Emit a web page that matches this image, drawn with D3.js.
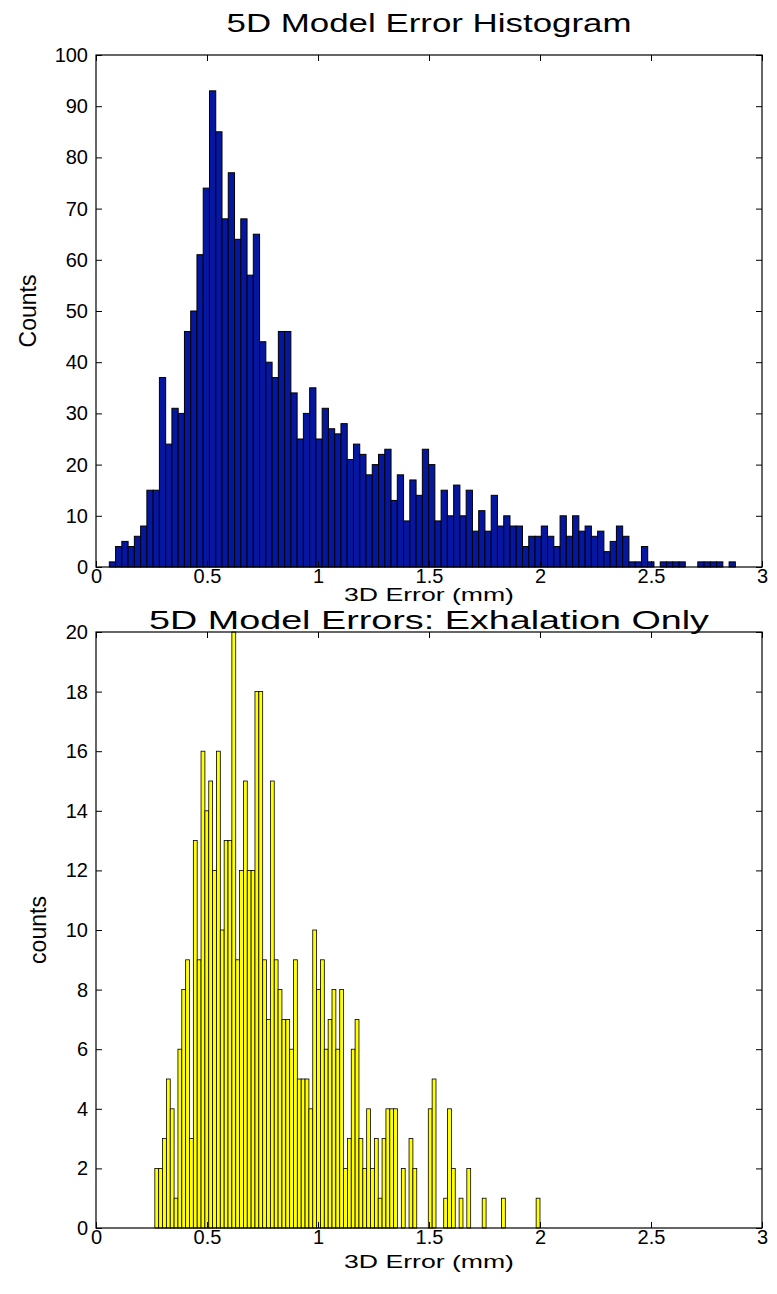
<!DOCTYPE html>
<html>
<head>
<meta charset="utf-8">
<script src="https://cdn.jsdelivr.net/npm/d3@7"></script>
<style>
  body { margin: 0; background: #fff; }
  text { font-family: "Liberation Sans", Arial, sans-serif; fill: #000; }
</style>
</head>
<body>
<div id="chart"></div>
<script>
// histogram counts, one value per bin
var topCounts = [1,4,5,4,6,8,15,15,37,24,31,30,46,50,61,74,93,85,68,77,64,68,57,65,
  44,40,37,46,46,34,25,30,35,25,31,27,26,28,21,24,
  22,18,20,22,23,13,18,9,17,14,23,20,9,15,10,16,10,15,7,11,7,14,
  8,10,8,8,4,6,6,8,6,4,10,6,10,7,8,6,7,3,5,8,6,1,1,4,1,0,1,1,1,1,0,0,1,1,1,1,0,1];
var topBinStart = 0.060;
var topBinWidth = 0.0282;

var botCounts = [2,2,3,5,4,1,6,8,9,3,
  13,9,16,14,15,12,16,10,13,13,
  20,9,12,15,12,12,18,18,9,7,
  15,9,8,7,7,6,9,5,5,5,
  4,10,8,9,6,7,8,6,8,2,
  3,6,7,3,2,4,2,3,1,3,
  4,4,4,0,2,0,3,2,0,0,
  0,4,5,0,0,1,4,2,0,1,
  0,2,0,0,0,1,0,0,0,0,
  1,0,0,0,0,0,0,0,0,1];
var botBinStart = 0.265;
var botBinWidth = 0.01735;

var xTicks = [0, 0.5, 1, 1.5, 2, 2.5, 3];
var topYTicks = [0, 10, 20, 30, 40, 50, 60, 70, 80, 90, 100];
var botYTicks = [0, 2, 4, 6, 8, 10, 12, 14, 16, 18, 20];

var svgWidth = 777;
var svgHeight = 1294;

var svg = d3.select("#chart")
  .append("svg")
  .attr("width", svgWidth)
  .attr("height", svgHeight);

var left = 96, right = 762;

function drawHist(opts) {
  var x = d3.scaleLinear().domain([0, 3]).range([left, right]);
  var y = d3.scaleLinear().domain([0, opts.yMax]).range([opts.bottom, opts.top]);

  var bins = opts.counts.map(function(c, i) {
    return { x0: opts.start + i * opts.width, x1: opts.start + (i + 1) * opts.width, n: c };
  }).filter(function(d) { return d.n > 0; });

  var g = svg.append("g");

  g.selectAll("rect.bar")
    .data(bins)
    .enter()
    .append("rect")
    .attr("class", "bar")
    .attr("x", d => x(d.x0))
    .attr("width", d => x(d.x1) - x(d.x0))
    .attr("y", d => y(d.n))
    .attr("height", d => y(0) - y(d.n))
    .attr("fill", opts.fill)
    .attr("stroke", "#000")
    .attr("stroke-width", opts.strokeWidth);

  var fmt = d => String(d);

  // axes, ticks pointing inward on all four sides
  var xb = g.append("g")
    .attr("transform", `translate(0, ${opts.bottom})`)
    .call(d3.axisBottom(x).tickValues(xTicks).tickFormat(fmt).tickSizeInner(-6).tickSizeOuter(0).tickPadding(2));
  var xt = g.append("g")
    .attr("transform", `translate(0, ${opts.top})`)
    .call(d3.axisTop(x).tickValues(xTicks).tickFormat("").tickSizeInner(-6).tickSizeOuter(0));
  var yl = g.append("g")
    .attr("transform", `translate(${left}, 0)`)
    .call(d3.axisLeft(y).tickValues(opts.yTicks).tickFormat(fmt).tickSizeInner(-6).tickSizeOuter(0).tickPadding(8));
  var yr = g.append("g")
    .attr("transform", `translate(${right}, 0)`)
    .call(d3.axisRight(y).tickValues(opts.yTicks).tickFormat("").tickSizeInner(-6).tickSizeOuter(0));

  [xb, xt, yl, yr].forEach(function(a) {
    a.select(".domain").remove();
    a.selectAll("line").attr("stroke", "#000");
    a.selectAll("text").style("font-size", "20px").style("font-family", "Liberation Sans, Arial, sans-serif");
  });

  g.append("rect")
    .attr("x", left)
    .attr("y", opts.top)
    .attr("width", right - left)
    .attr("height", opts.bottom - opts.top)
    .attr("fill", "none")
    .attr("stroke", "#000")
    .attr("stroke-width", 1.2);

  g.append("text")
    .attr("x", (left + right) / 2)
    .attr("y", opts.titleY)
    .attr("text-anchor", "middle")
    .attr("textLength", opts.titleLen)
    .attr("lengthAdjust", "spacingAndGlyphs")
    .style("font-size", "26px")
    .text(opts.title);

  g.append("text")
    .attr("x", (left + right) / 2)
    .attr("y", opts.xLabelY)
    .attr("text-anchor", "middle")
    .attr("textLength", 170)
    .attr("lengthAdjust", "spacingAndGlyphs")
    .style("font-size", "18px")
    .text("3D Error (mm)");

  g.append("text")
    .attr("transform", "rotate(-90)")
    .attr("x", -(opts.top + opts.bottom) / 2)
    .attr("y", opts.yLabelX)
    .attr("text-anchor", "middle")
    .style("font-size", "23px")
    .text(opts.yLabel);
}

drawHist({
  counts: topCounts, start: topBinStart, width: topBinWidth,
  top: 55, bottom: 567, yMax: 100, yTicks: topYTicks,
  fill: "#0516a0", strokeWidth: 1,
  title: "5D Model Error Histogram", titleY: 32, titleLen: 405,
  xLabelY: 601, yLabel: "Counts", yLabelX: 36
});

drawHist({
  counts: botCounts, start: botBinStart, width: botBinWidth,
  top: 632, bottom: 1228, yMax: 20, yTicks: botYTicks,
  fill: "#ffff00", strokeWidth: 0.8,
  title: "5D Model Errors: Exhalation Only", titleY: 629, titleLen: 560,
  xLabelY: 1268, yLabel: "counts", yLabelX: 46
});
</script>
</body>
</html>
